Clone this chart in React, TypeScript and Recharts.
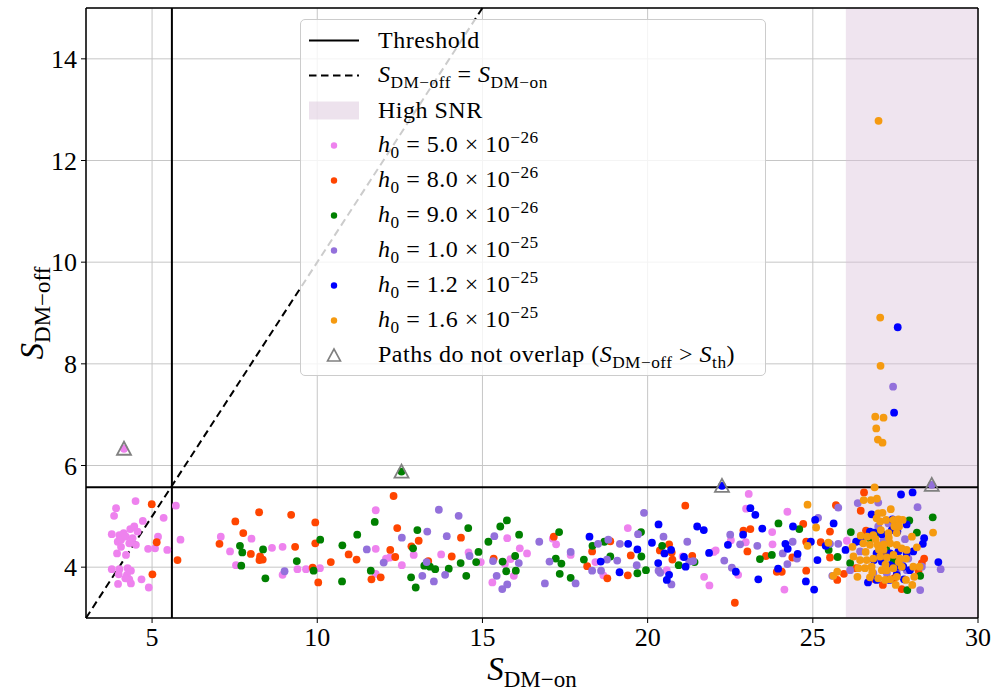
import React from 'react';
import {
  ScatterChart, Scatter, XAxis, YAxis, CartesianGrid, ReferenceLine, ReferenceArea, Label,
} from 'recharts';

// ---------- data ----------
const xTicks = [5, 10, 15, 20, 25, 30];
const yTicks = [4, 6, 8, 10, 12, 14];
const xDomain = [3, 30];
const yDomain = [3, 15];
const thresholdX = 5.6;
const thresholdY = 5.57;
const highSnrFrom = 26;
const highSnrTo = 30;
const diagonal = [3, 15];

const seriesNames = ['5.0', '8.0', '9.0', '1.0', '1.2', '1.6'];
const seriesExps = ['−26', '−26', '−26', '−25', '−25', '−25'];
const seriesColors = ['#ee82ee', '#ff4500', '#008000', '#9370db', '#0000ff', '#f59a10'];

const h50: number[][] = [
  [3.91,5.16],[3.85,5.01],[4.50,5.30],[3.78,4.65],[4.01,4.63],[3.96,4.50],[4.06,4.54],[4.14,4.67],[4.21,4.60],[4.34,4.75],
  [4.46,4.80],[4.56,4.70],[4.41,4.57],[4.51,4.44],[4.31,4.47],[4.06,4.40],[3.94,4.27],[4.21,4.24],[4.72,4.91],[5.35,4.97],
  [5.18,4.60],[5.09,4.37],[4.88,4.36],[5.46,4.34],[5.72,5.21],[5.86,4.54],[3.78,3.96],[4.01,3.96],[4.26,3.98],[4.36,3.93],
  [3.99,3.86],[4.24,3.85],[4.31,3.76],[4.36,3.68],[3.97,3.67],[4.68,3.76],[4.90,3.60],[4.19,3.78],[4.15,6.33],
  [7.08,4.60],[7.36,4.31],[8.01,4.56],[8.63,4.38],[8.95,4.40],[7.54,4.04],[8.95,3.85],[9.40,3.96],[9.66,3.96],
  [10.08,3.98],[11.77,5.12],[11.77,4.36],[12.20,4.19],[12.08,4.17],[11.77,3.87],[12.56,4.04],[12.92,4.24],[13.75,4.25],
  [14.58,4.29],[14.95,4.10],[15.75,4.57],[16.13,4.37],[16.35,4.27],[15.85,4.16],[15.95,3.83],[15.30,3.70],[15.68,4.06],
  [17.13,4.56],[17.23,4.45],[17.67,4.24],[18.42,4.10],[18.66,3.84],[19.40,4.77],[20.58,3.94],[21.06,4.21],[21.71,3.81],
  [21.87,3.64],[22.00,4.30],[22.06,4.33],[22.52,4.53],[22.97,4.49],[22.74,3.85],[22.98,5.15],[23.06,5.44],
  [24.23,5.09],[23.77,4.69],[23.78,4.45],[24.14,3.56],[26.03,4.52],
];
const h80: number[][] = [
  [4.99,5.24],[5.14,4.49],[5.77,4.14],[5.01,3.86],[7.04,4.46],[7.52,4.90],[8.24,5.08],[7.76,4.67],[7.99,4.26],[8.27,4.21],
  [8.35,4.15],[8.25,4.14],[9.21,5.03],[9.33,4.40],[9.94,4.88],[9.94,4.47],[9.86,3.99],
  [10.03,3.70],[10.41,4.10],[10.95,4.25],[11.19,4.15],[12.31,5.40],[12.42,4.77],[12.21,4.34],[12.36,4.20],[11.64,3.76],
  [11.92,3.80],[12.85,4.41],[13.07,4.52],[13.36,4.12],[14.35,4.58],[14.07,4.21],[15.34,4.17],
  [17.16,4.60],[18.32,4.31],[18.17,4.02],[18.87,4.51],[18.78,3.78],[19.49,4.23],[19.40,3.84],[20.37,4.33],[20.65,4.45],
  [20.73,4.29],[20.75,4.15],[21.14,5.21],[21.35,4.22],[22.64,3.30],[22.90,4.72],[23.11,4.75],[23.02,4.31],
  [23.58,4.22],[23.91,3.91],[24.06,3.91],[24.38,4.19],[24.71,4.85],[24.80,3.93],[24.80,4.50],[25.24,4.49],[25.52,4.70],
  [25.52,4.19],[25.70,5.22],[25.74,3.75],[25.94,3.87],
  [26.55,5.47],[26.45,5.11],[26.61,4.72],[27.12,3.65],[27.69,3.57],[26.88,3.76],[28.30,4.08],[28.37,4.17],[28.20,3.93],
  [27.46,3.78],[26.31,3.98],
];
const h90: number[][] = [
  [7.66,4.42],[7.73,4.29],[7.70,4.03],[8.36,4.35],[8.43,3.78],[9.38,4.12],[9.89,3.93],
  [10.09,4.54],[10.76,4.43],[10.75,3.72],[11.21,4.64],[11.74,4.89],[11.62,3.93],[12.84,3.80],[12.98,3.60],[13.03,4.73],
  [12.90,4.37],[13.24,4.03],[13.41,4.01],[13.57,3.96],[13.98,3.97],[14.34,4.08],[14.51,3.83],[14.57,4.77],[14.81,4.10],
  [14.88,4.30],[15.18,4.50],[15.54,4.80],[15.74,4.92],[16.11,4.64],[15.61,4.11],[15.72,3.92],[16.01,3.93],[15.99,4.22],
  [12.55,5.88],
  [17.32,4.69],[17.22,4.17],[17.39,4.07],[17.34,3.87],[17.67,3.79],[18.07,4.15],[18.33,4.42],[18.69,4.50],[18.87,4.21],
  [19.80,4.69],[19.81,4.21],[19.69,3.88],[19.95,3.94],[20.44,4.42],[20.94,4.04],[21.42,4.10],[23.40,4.16],
  [23.96,4.86],[24.59,4.75],[23.76,4.24],[25.75,4.20],[25.48,4.34],
  [26.15,4.69],[26.46,4.60],[26.13,4.08],[27.92,4.92],[28.15,4.68],[28.63,4.98],[27.86,3.55],[28.25,3.83],[27.22,4.35],
  [27.44,4.14],[26.73,4.57],[27.04,4.67],
];
const h100: number[][] = [
  [9.01,3.92],[11.50,4.35],[12.01,4.09],[12.56,4.58],[13.33,4.70],[13.31,4.10],[13.18,3.83],[13.68,5.13],[13.92,4.61],
  [13.53,3.72],[13.87,3.85],[14.28,5.01],[14.61,4.22],[15.36,4.61],[15.32,4.12],[15.43,3.83],[15.60,3.57],[15.75,3.66],
  [16.10,4.08],[16.72,4.50],
  [16.89,3.68],[17.03,4.11],[17.67,4.30],[17.82,3.68],[18.32,3.93],[18.50,4.46],[18.59,3.93],[18.81,4.54],[18.77,4.15],
  [19.08,4.13],[19.16,4.46],[19.67,4.04],[19.71,4.65],[19.89,5.07],[20.33,3.93],[20.38,3.89],[20.48,4.60],[20.72,3.66],
  [21.20,4.50],[21.26,4.11],[21.38,4.12],[22.32,4.13],[22.50,4.64],[22.55,3.99],[22.80,4.45],[23.32,4.42],
  [24.09,4.27],[24.39,4.50],[24.23,4.06],[24.52,4.17],[25.16,4.97],[25.77,5.17],[25.59,3.83],[25.52,4.46],[25.77,4.46],
  [26.36,5.26],[26.98,5.27],[28.17,5.18],[27.29,4.86],[27.79,4.55],[26.98,4.80],[27.14,4.52],[26.13,3.94],[26.43,4.31],
  [26.83,3.88],[27.24,3.88],[27.54,3.91],[27.84,3.94],[28.25,3.55],[28.87,3.96],[28.30,4.01],[27.69,4.11],[27.89,4.17],
  [27.43,7.55],[28.60,5.62],
];
const h120: number[][] = [
  [18.24,4.60],[18.58,4.11],[19.15,3.90],[19.41,4.46],[19.69,4.35],[20.13,4.48],[20.33,4.84],[20.51,4.27],[20.71,4.34],
  [20.32,4.08],[20.65,3.85],[20.58,3.75],[21.10,4.20],[21.15,4.01],[21.50,4.80],[21.70,4.73],[21.86,4.28],[22.43,4.44],
  [22.67,3.91],[22.89,4.64],[23.11,5.16],[23.26,5.03],[23.35,3.76],[22.25,5.60],
  [23.47,4.76],[23.95,3.97],[24.17,4.46],[24.24,4.36],[24.40,4.80],[24.54,4.26],[24.94,4.50],[25.07,4.93],[25.14,4.14],
  [25.04,3.56],[24.79,3.72],[25.63,4.86],[25.39,4.42],[25.99,4.34],
  [27.67,5.43],[28.02,5.47],[26.78,5.04],[27.41,4.94],[27.84,4.84],[26.73,4.70],[26.85,4.68],[27.09,4.65],[27.39,4.73],
  [27.56,4.70],[26.31,4.50],[26.48,4.50],[28.37,4.57],[28.33,4.46],[26.93,4.27],[27.14,4.24],[27.34,4.27],[27.59,4.31],
  [27.84,4.27],[28.04,4.31],[28.80,4.10],[27.34,4.04],[27.54,4.01],[27.74,4.01],[27.94,3.94],[26.67,3.70],[26.93,3.75],
  [27.32,3.75],[27.54,3.85],[27.76,3.76],[26.85,4.14],[27.09,4.11],[27.57,8.72],[27.46,7.04],
];
const h160: number[][] = [
  [24.84,5.23],[25.10,4.78],[24.84,4.42],[25.47,4.48],[25.62,3.83],[25.74,3.91],
  [26.87,5.57],[26.54,5.32],[26.76,5.32],[26.94,5.35],[26.98,5.06],[27.11,5.07],[27.36,5.14],[26.93,4.96],[27.04,4.90],
  [27.22,4.93],[27.44,4.93],[27.59,4.94],[27.72,4.93],[26.65,4.60],[26.83,4.63],[27.06,4.73],[27.29,4.67],[27.47,4.80],
  [27.61,4.80],[27.54,4.67],[28.00,4.60],[28.15,4.39],[28.64,4.68],[26.53,4.47],[26.73,4.44],[26.96,4.44],[27.14,4.34],
  [27.34,4.47],[27.54,4.44],[27.69,4.37],[27.84,4.34],[26.23,4.21],[26.43,4.14],[26.63,4.14],[26.83,4.17],[27.04,4.21],
  [27.24,4.19],[27.44,4.24],[27.64,4.17],[27.82,4.17],[26.38,3.98],[26.58,3.98],[26.78,4.01],[27.09,3.94],[27.24,3.94],
  [27.44,3.98],[27.69,4.01],[28.04,4.01],[28.23,4.01],[26.35,3.81],[26.73,3.80],[26.98,3.78],[27.19,3.75],[27.34,3.76],
  [27.54,3.81],[28.07,3.81],[27.51,3.65],[28.01,3.65],[27.82,3.75],
  [26.60,4.30],[26.90,4.55],[27.20,4.05],[27.00,4.35],[27.30,4.58],[26.80,3.90],[27.60,4.10],[27.15,4.45],[26.45,4.62],
  [26.20,4.40],
  [26.99,12.78],[27.04,8.91],[27.05,7.96],[26.89,6.96],[27.14,6.94],[26.92,6.73],[26.97,6.51],[27.11,6.45],
];
const noOverlap: number[][] = [[4.15, 6.33], [12.55, 5.88], [22.25, 5.60], [28.60, 5.62]];

const allSeries = [h50, h80, h90, h100, h120, h160];
const toObj = (arr: number[][]) => arr.map(([x, y]) => ({ x, y }));

const FONT = '"Liberation Serif", "Times New Roman", serif';

const makeDot = (color: string) => (props: any) => {
  const { cx, cy } = props;
  if (cx == null || cy == null) return <g />;
  return <circle cx={cx} cy={cy} r={3.9} fill={color} />;
};

const Triangle = (props: any) => {
  const { cx, cy } = props;
  if (cx == null || cy == null) return <g />;
  return (
    <polygon
      points={`${cx},${cy - 7} ${cx - 7},${cy + 6} ${cx + 7},${cy + 6}`}
      fill="none"
      stroke="#808080"
      strokeWidth={1.8}
      strokeLinejoin="miter"
    />
  );
};

const XLabel = (props: any) => {
  const vb = props.viewBox || {};
  const cx = vb.x + vb.width / 2;
  const y = vb.y + 62;
  return (
    <text x={cx} y={y} textAnchor="middle" fontFamily={FONT} fontSize={33} fill="#000">
      <tspan fontStyle="italic">S</tspan>
      <tspan fontSize={23} dy={7}>DM−on</tspan>
    </text>
  );
};

const YLabel = (props: any) => {
  const vb = props.viewBox || {};
  const cy = vb.y + vb.height / 2;
  const x = 43;
  return (
    <text x={x} y={cy} textAnchor="middle" fontFamily={FONT} fontSize={33} fill="#000" transform={`rotate(-90, ${x}, ${cy})`}>
      <tspan fontStyle="italic">S</tspan>
      <tspan fontSize={23} dy={7}>DM−off</tspan>
    </text>
  );
};

const sub = (t: string) => (
  <span style={{ fontSize: '0.72em', position: 'relative', top: '0.32em' }}>{t}</span>
);
const sup = (t: string) => (
  <span style={{ fontSize: '0.72em', position: 'relative', top: '-0.55em' }}>{t}</span>
);

const LegendBox = () => {
  const rowStyle: React.CSSProperties = { display: 'flex', alignItems: 'center', height: 35 };
  const handle = (content: React.ReactNode) => (
    <svg width={50} height={35} style={{ flex: 'none', marginRight: 19 }}>{content}</svg>
  );
  return (
    <div
      style={{
        position: 'absolute', left: 300, top: 19, width: 466, height: 357, boxSizing: 'border-box',
        border: '1px solid #cccccc', borderRadius: 5, background: 'rgba(255,255,255,0.8)',
        fontFamily: FONT, fontSize: 24, letterSpacing: 0.5, color: '#000', paddingLeft: 8, paddingTop: 3,
        lineHeight: '35px', whiteSpace: 'nowrap',
      }}
    >
      <div style={rowStyle}>
        {handle(<line x1={0} x2={50} y1={17.5} y2={17.5} stroke="#000" strokeWidth={2} />)}
        <span>Threshold</span>
      </div>
      <div style={rowStyle}>
        {handle(<line x1={0} x2={50} y1={17.5} y2={17.5} stroke="#000" strokeWidth={2} strokeDasharray="7.5 4.5" />)}
        <span><i>S</i>{sub('DM−off')} = <i>S</i>{sub('DM−on')}</span>
      </div>
      <div style={rowStyle}>
        {handle(<rect x={0} y={8.5} width={50} height={18} fill="#d8bfd8" fillOpacity={0.45} />)}
        <span>High SNR</span>
      </div>
      {seriesNames.map((n, i) => (
        <div style={rowStyle} key={n + i}>
          {handle(<circle cx={25} cy={17.5} r={3.2} fill={seriesColors[i]} />)}
          <span><i>h</i>{sub('0')} = {n} × 10{sup(seriesExps[i])}</span>
        </div>
      ))}
      <div style={rowStyle}>
        {handle(<polygon points="25,11 18.5,23 31.5,23" fill="none" stroke="#808080" strokeWidth={1.6} />)}
        <span>Paths do not overlap (<i>S</i>{sub('DM−off')} &gt; <i>S</i>{sub('th')})</span>
      </div>
    </div>
  );
};

export default function App() {
  return (
    <div style={{ position: 'absolute', left: 0, top: 0, width: 996, height: 692, background: '#fff' }}>
      <ScatterChart width={996} height={692} margin={{ top: 8, right: 18, bottom: 0, left: 0 }}>
        <CartesianGrid stroke="#c6c6c6" strokeWidth={1} />
        <ReferenceArea x1={highSnrFrom} x2={highSnrTo} y1={yDomain[0]} y2={yDomain[1]} fill="#d8bfd8" fillOpacity={0.42} stroke="none" />
        <XAxis
          type="number" dataKey="x" domain={xDomain} ticks={xTicks} allowDataOverflow height={74}
          axisLine={false} tickLine={{ stroke: '#000', strokeWidth: 1 }} tickSize={5} tickMargin={5}
          tick={{ fontFamily: FONT, fontSize: 26, fill: '#000' }}
        >
          <Label content={XLabel} />
        </XAxis>
        <YAxis
          type="number" dataKey="y" domain={yDomain} ticks={yTicks} allowDataOverflow width={86}
          axisLine={false} tickLine={{ stroke: '#000', strokeWidth: 1 }} tickSize={5} tickMargin={4}
          tick={{ fontFamily: FONT, fontSize: 26, fill: '#000' }}
        >
          <Label content={YLabel} />
        </YAxis>
        {allSeries.map((s, i) => (
          <Scatter key={i} name={seriesNames[i]} data={toObj(s)} fill={seriesColors[i]} shape={makeDot(seriesColors[i])} isAnimationActive={false} />
        ))}
        <Scatter name="noOverlap" data={toObj(noOverlap)} fill="none" shape={Triangle} isAnimationActive={false} />
        <ReferenceLine x={thresholdX} stroke="#000" strokeWidth={2} />
        <ReferenceLine y={thresholdY} stroke="#000" strokeWidth={2} />
        <ReferenceLine
          segment={[{ x: diagonal[0], y: diagonal[0] }, { x: diagonal[1], y: diagonal[1] }]}
          stroke="#000" strokeWidth={2} strokeDasharray="7.5 4.5"
        />
        <ReferenceLine x={xDomain[0]} stroke="#000" strokeWidth={1.5} />
        <ReferenceLine x={xDomain[1]} stroke="#000" strokeWidth={1.5} />
        <ReferenceLine y={yDomain[0]} stroke="#000" strokeWidth={1.5} />
        <ReferenceLine y={yDomain[1]} stroke="#000" strokeWidth={1.5} />
      </ScatterChart>
      <LegendBox />
    </div>
  );
}
